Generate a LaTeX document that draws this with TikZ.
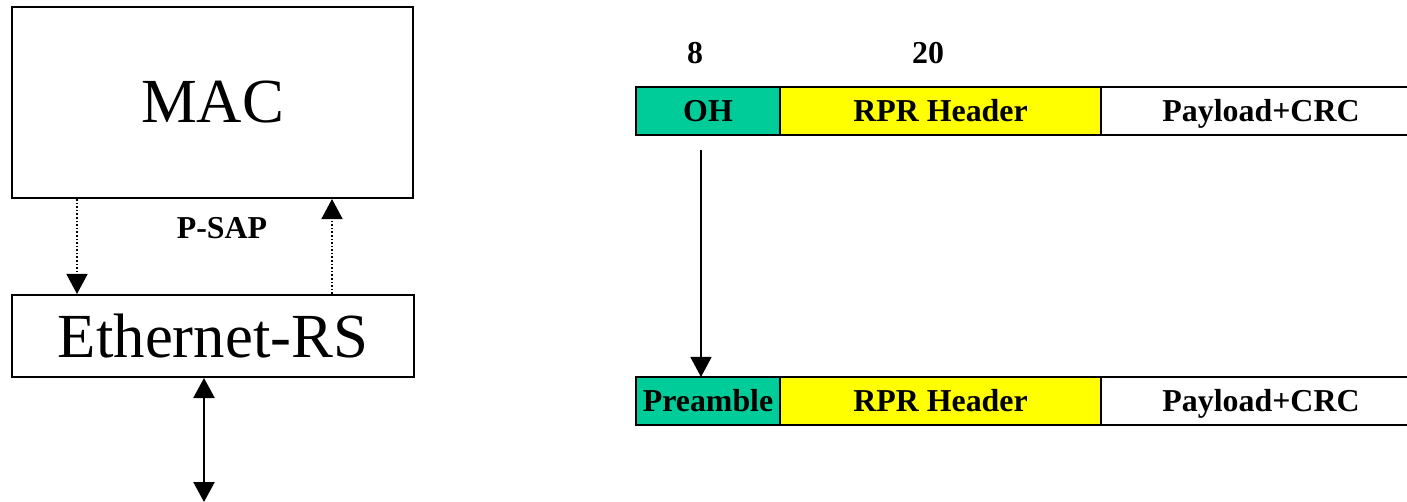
\documentclass[tikz,border=0pt]{standalone}
\usepackage{fontspec}
\setmainfont{Liberation Serif}
\usetikzlibrary{arrows.meta}
\definecolor{ohgreen}{RGB}{0,204,153}
\definecolor{hdryellow}{RGB}{255,255,0}

\begin{document}
\begin{tikzpicture}[>={Triangle[length=10bp,width=10.5bp]}, x=0.5bp, y=-0.5bp,
    layer/.style={draw, line width=1bp, inner sep=0pt, font=\fontsize{31.5}{36}\selectfont},
    field/.style={draw, line width=1.3bp, inner sep=0pt, outer sep=0pt, minimum height=24bp, font=\fontsize{16}{19}\bfseries\selectfont},
    lbl/.style={font=\fontsize{16}{19}\bfseries\selectfont}]
    \useasboundingbox (0,0) rectangle (1407,502);

    \node[layer, minimum width=200.5bp, minimum height=95.5bp] (mac) at (212.5,102.5) {MAC};
    \node[layer, minimum width=201bp, minimum height=41bp] (eth) at (213,336) {Ethernet-RS};

    \coordinate (down) at (77,0);
    \coordinate (up) at (332,0);
    \coordinate (phy) at (204,502);
    \coordinate (edge) at (1407,0);
    \coordinate (tap) at (701,150);

    % P-SAP
    \draw[->,densely dotted,line width=0.8bp] (mac.south -| down) -- (eth.north -| down);
    \draw[->,densely dotted,line width=0.8bp] (eth.north -| up) -- (mac.south -| up);
    \node[lbl] (psap) at (222,228) {P-SAP};
    \draw[<->,line width=1.2bp] (eth.south -| phy) -- (phy);

    % RPR frame
    \node[lbl] (len8) at (695,53) {8};
    \node[lbl] (len20) at (928,53) {20};
    \node[field, fill=ohgreen, minimum width=72bp] (oh) at (708,111) {OH};
    \node[field, fill=hdryellow, minimum width=160.5bp, anchor=west] (rpr1) at (oh.east) {RPR Header};
    \node[lbl, anchor=base] (pay1) at (1261,122) {Payload+CRC};
    \draw[line width=1.3bp] (rpr1.north east) -- (rpr1.north east -| edge);
    \draw[line width=1.3bp] (rpr1.south east) -- (rpr1.south east -| edge);

    % Ethernet frame
    \node[field, fill=ohgreen, minimum width=72bp] (pre) at (708,401) {Preamble};
    \node[field, fill=hdryellow, minimum width=160.5bp, anchor=west] (rpr2) at (pre.east) {RPR Header};
    \node[lbl, anchor=base] (pay2) at (1261,412) {Payload+CRC};
    \draw[line width=1.3bp] (rpr2.north east) -- (rpr2.north east -| edge);
    \draw[line width=1.3bp] (rpr2.south east) -- (rpr2.south east -| edge);

    \draw[->,line width=0.8bp] (tap) -- (tap |- pre.north);
\end{tikzpicture}
\end{document}
